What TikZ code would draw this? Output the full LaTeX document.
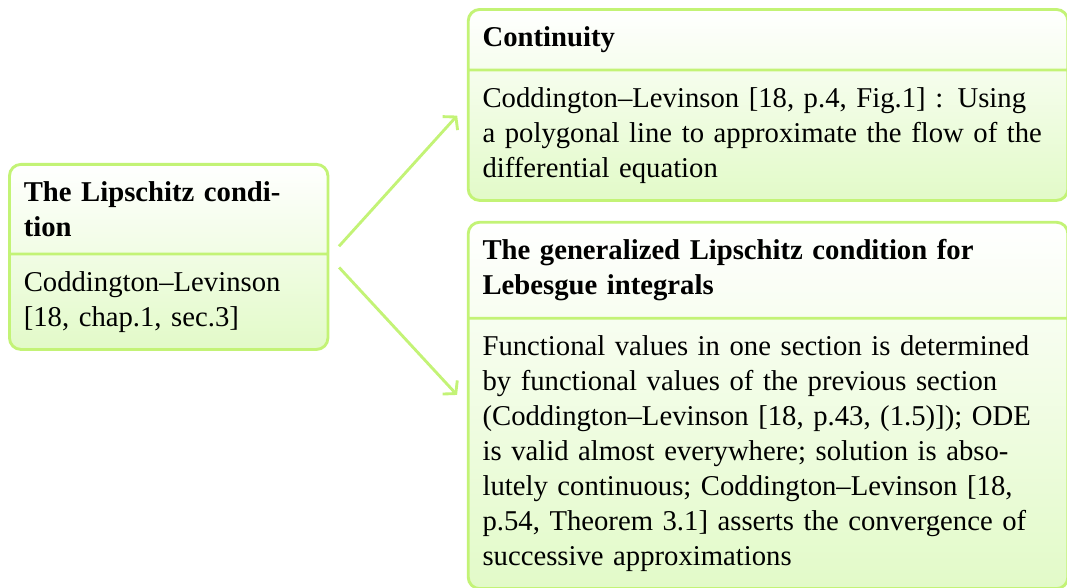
\documentclass[tikz,border=0pt]{standalone}
\usepackage{fontspec}
\setmainfont{Liberation Serif}
\usetikzlibrary{shapes.multipart,positioning,arrows.meta}

\definecolor{limeline}{RGB}{195,243,118}
\definecolor{limefill}{RGB}{226,250,200}

\tikzset{
    thmbox/.style={rectangle split, rectangle split parts=2,
        draw=limeline, line width=1pt, rounded corners=4pt,
        top color=white, bottom color=limefill,
        align=left, inner xsep=5pt, inner ysep=5.5pt,
        font=\fontsize{10}{12.2}\selectfont},
    link/.style={draw=limeline, line width=1pt,
        -{Straight Barb[length=3pt,width=7pt]},
        shorten >=5pt, shorten <=5pt}
}

\begin{document}
\begin{tikzpicture}
    \useasboundingbox (0,0) rectangle (371.9pt,-204.9pt);

    % the three boxes
    \node[thmbox, text width=101pt, anchor=north west] (lip) at (2.8pt,-56.8pt)
        {\textbf{The Lipschitz condi-\\tion}
         \nodepart{two}Coddington–Levinson\\{}[18, chap.1, sec.3]};
    \node[thmbox, text width=199pt, anchor=north west] (cont) at (162.7pt,-2.8pt)
        {\textbf{Continuity}
         \nodepart{two}Coddington–Levinson [18, p.4, Fig.1] : Using\\
         a polygonal line to approximate the flow of the\\
         differential equation};
    \node[thmbox, text width=199pt, below=6.6pt of cont.south west, anchor=north west] (gen)
        {\textbf{The generalized Lipschitz condition for\\ Lebesgue integrals}
         \nodepart{two}Functional values in one section is determined\\
         by functional values of the previous section\\
         (Coddington–Levinson [18, p.43, (1.5)]); ODE\\
         is valid almost everywhere; solution is abso-\\
         lutely continuous; Coddington–Levinson [18,\\
         p.54, Theorem 3.1] asserts the convergence of\\
         successive approximations};

    % arrows
    \draw[link] (lip.east) -- (cont.west);
    \draw[link] (lip.east) -- (gen.west);
\end{tikzpicture}
\end{document}
